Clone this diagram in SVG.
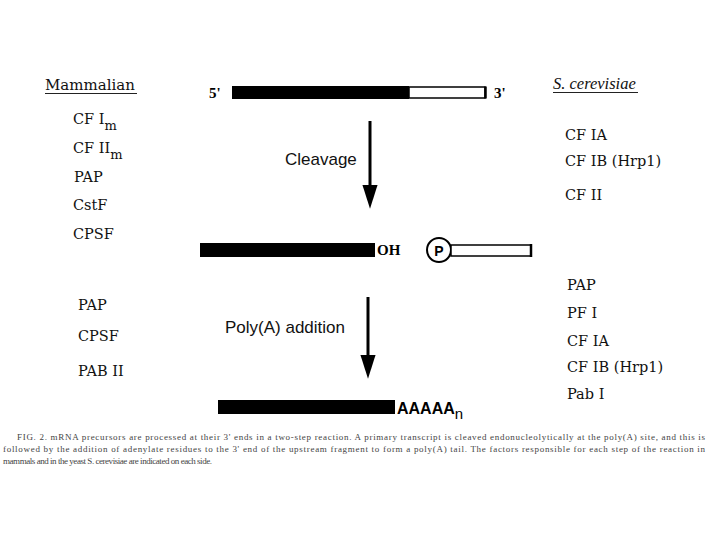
<svg xmlns="http://www.w3.org/2000/svg" width="720" height="540" viewBox="0 0 720 540">
<defs>
<style>
.lbl{font-family:"DejaVu Serif","Liberation Serif",serif;font-size:14.5px;fill:#111}
.hdr{font-family:"DejaVu Serif","Liberation Serif",serif;font-size:15px;fill:#111}
.ital{font-family:"Liberation Serif",serif;font-style:italic;font-size:16.5px;fill:#111}
.end{font-family:"Liberation Serif",serif;font-weight:bold;font-size:15px;fill:#000}
.step{font-family:"Liberation Sans",Arial,sans-serif;font-size:17px;fill:#111}
.cap{font-family:"Liberation Serif",serif;font-size:9px;fill:#444}
.ul{stroke:#222;stroke-width:1}
.blk{fill:#000}
.wht{fill:#fff;stroke:#000;stroke-width:1.5}
.conn{stroke:#000;stroke-width:3;fill:none}
</style>
<marker id="head" markerUnits="userSpaceOnUse" markerWidth="24" markerHeight="16" viewBox="0 0 22 14" refX="14" refY="7" orient="auto">
<path d="M0,0 L22,7 L0,14 z" fill="#000"/>
</marker>
</defs>
<rect width="720" height="540" fill="#fff"/>

<g id="mammalian-header">
<text class="hdr" x="45" y="90">Mammalian</text>
<line class="ul" x1="45" y1="93.5" x2="137" y2="93.5"/>
</g>
<g id="yeast-header">
<text class="ital" x="553" y="89">S. cerevisiae</text>
<line class="ul" x1="553" y1="92.5" x2="638" y2="92.5"/>
</g>

<g id="precursor">
<text class="end" x="209" y="98">5'</text>
<rect class="blk" x="232" y="86" width="177" height="13"/>
<rect class="wht" x="409" y="87" width="76" height="11"/>
<line x1="485.5" y1="86.5" x2="485.5" y2="98.5" stroke="#000" stroke-width="2.5"/>
<text class="end" x="494" y="98">3'</text>
</g>

<g id="cleavage-factors-mammal">
<text class="lbl" x="73" y="124">CF I<tspan font-size="13" dy="6">m</tspan></text>
<text class="lbl" x="73" y="153">CF II<tspan font-size="13" dy="6">m</tspan></text>
<text class="lbl" x="74" y="182">PAP</text>
<text class="lbl" x="73" y="210">CstF</text>
<text class="lbl" x="73" y="239">CPSF</text>
</g>

<g id="cleavage-factors-yeast">
<text class="lbl" x="565" y="140">CF IA</text>
<text class="lbl" x="565" y="166">CF IB (Hrp1)</text>
<text class="lbl" x="565" y="200">CF II</text>
</g>

<g id="cleaved-products">
<rect class="blk" x="200" y="243" width="175" height="14"/>
<text class="end" x="377" y="255" font-size="16">OH</text>
<circle cx="439" cy="250" r="12" fill="#fff" stroke="#000" stroke-width="2"/>
<text x="439" y="255.5" text-anchor="middle" font-family="Liberation Sans,Arial,sans-serif" font-weight="bold" font-size="14" fill="#000">P</text>
<rect class="wht" x="451" y="245" width="80" height="11"/>
<line x1="531" y1="244" x2="531" y2="257" stroke="#000" stroke-width="2.5"/>
</g>

<g id="polyA-factors-mammal">
<text class="lbl" x="78" y="310">PAP</text>
<text class="lbl" x="78" y="341">CPSF</text>
<text class="lbl" x="78" y="376">PAB II</text>
</g>

<g id="polyA-factors-yeast">
<text class="lbl" x="567" y="290">PAP</text>
<text class="lbl" x="567" y="318">PF I</text>
<text class="lbl" x="567" y="346">CF IA</text>
<text class="lbl" x="567" y="372">CF IB (Hrp1)</text>
<text class="lbl" x="567" y="399">Pab I</text>
</g>

<g id="polyadenylated">
<rect class="blk" x="218" y="400" width="177" height="14"/>
<text x="397" y="414" font-family="Liberation Sans,Arial,sans-serif" font-weight="bold" font-size="16" fill="#000">AAAAA<tspan font-weight="normal" font-size="15" dy="5">n</tspan></text>
</g>

<g id="step-labels">
<text class="step" x="285" y="165">Cleavage</text>
<text class="step" x="225" y="333">Poly(A) addition</text>
</g>

<g id="connectors">
<line class="conn" x1="370" y1="121" x2="370" y2="200" marker-end="url(#head)"/>
<line class="conn" x1="368" y1="297" x2="368" y2="370" marker-end="url(#head)"/>
</g>

<g id="caption">
<text class="cap" x="17" y="440" textLength="688" lengthAdjust="spacing">FIG. 2. mRNA precursors are processed at their 3' ends in a two-step reaction. A primary transcript is cleaved endonucleolytically at the poly(A) site, and this is</text>
<text class="cap" x="3" y="452" textLength="702" lengthAdjust="spacing">followed by the addition of adenylate residues to the 3' end of the upstream fragment to form a poly(A) tail. The factors responsible for each step of the reaction in</text>
<text class="cap" x="3" y="464" font-size="8.6" textLength="209" lengthAdjust="spacing">mammals and in the yeast S. cerevisiae are indicated on each side.</text>
</g>
</svg>
